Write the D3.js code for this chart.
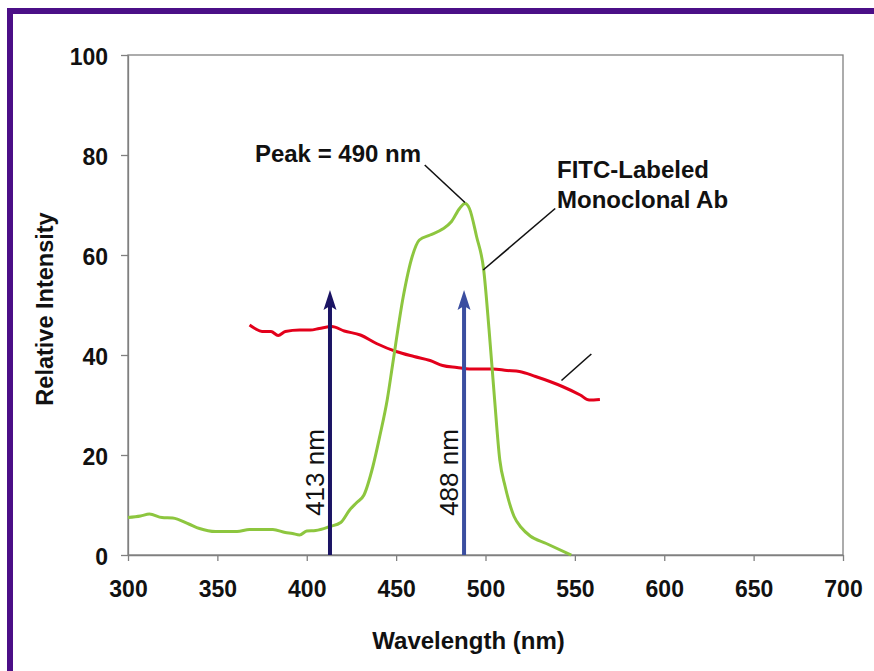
<!DOCTYPE html>
<html lang="en">
<head>
    <meta charset="UTF-8">
    <title>FITC-Labeled Monoclonal Ab spectrum</title>
    <script src="https://d3js.org/d3.v7.min.js"></script>
    <style>
        body { margin: 0; background: #fff; }
        svg { display: block; font-family: "Liberation Sans", Arial, sans-serif; }
        .axis path, .axis line { stroke: #808080; stroke-width: 1.3; }
        .axis text { font-size: 23px; font-weight: bold; fill: #111; }
        .line { fill: none; stroke-width: 3; stroke-linejoin: round; }
        .line.fitc { stroke: #8dc63f; }
        .line.ref { stroke: #e3001b; }
        .leader { stroke: #111; stroke-width: 1.6; }
        .note { font-size: 24px; font-weight: bold; fill: #111; }
    </style>
</head>
<body>
<svg id="chart" width="874" height="671"></svg>

<script>
    // FITC-labeled antibody curve (green)
    const fitcNm  = [300, 307, 312, 319, 325, 334, 340, 349, 361, 368, 381, 388, 392, 396, 400, 405, 413, 419, 424, 428, 432, 437, 441, 445, 448, 454, 459, 463, 469, 476, 481, 485.5, 488.5, 491, 495, 499, 502, 505, 508, 511, 516, 520, 525, 534, 548];
    const fitcVal = [7.5, 7.8, 8.2, 7.5, 7.4, 6.2, 5.3, 4.7, 4.7, 5.1, 5.1, 4.5, 4.3, 4.0, 4.8, 4.9, 5.7, 6.5, 9, 10.5, 12, 17.7, 24, 31, 38, 51.7, 59.7, 63, 64, 65.2, 66.7, 69.3, 70.3, 69.3, 63.7, 57, 45, 31.5, 19, 13.7, 7.7, 5.5, 3.8, 2.3, 0];

    // second curve (red)
    const refNm  = [368, 371, 375, 380, 384, 388, 396, 402, 407, 414, 421, 430, 439, 450, 460, 469, 476, 484, 491, 504, 512, 519, 528, 536, 543, 553, 558, 564];
    const refVal = [46, 45.3, 44.7, 44.7, 43.9, 44.7, 45, 45, 45.3, 45.7, 44.8, 44, 42.3, 40.7, 39.7, 38.9, 37.9, 37.5, 37.2, 37.2, 36.9, 36.7, 35.7, 34.7, 33.7, 32, 31, 31.1];

    // excitation arrows
    const arrowNm = [413, 488];
    const arrowTop = 53;
    const arrowLabels = ["413 nm", "488 nm"];
    const arrowColors = ["#1b1464", "#3b4ea0"];

    const xTicks = [300, 350, 400, 450, 500, 550, 600, 650, 700];
    const yTicks = [0, 20, 40, 60, 80, 100];

    const W = 874, H = 671;
    const plotL = 128, plotR = 843, plotT = 55, plotB = 555;

    const svg = d3.select("#chart");

    const x = d3.scaleLinear().domain([300, 700]).range([plotL, plotR]);
    const y = d3.scaleLinear().domain([0, 100]).range([plotB, plotT]);

    // purple frame
    svg.append("rect").attr("x", 7).attr("y", 8).attr("width", W - 7).attr("height", 6).attr("fill", "#4b0f87");
    svg.append("rect").attr("x", 7).attr("y", 8).attr("width", 6).attr("height", H - 8).attr("fill", "#4b0f87");

    // plot area border
    svg.append("rect")
        .attr("x", plotL).attr("y", plotT)
        .attr("width", plotR - plotL).attr("height", plotB - plotT)
        .attr("fill", "none").attr("stroke", "#808080").attr("stroke-width", 1.3);

    // axes
    svg.append("g")
        .attr("class", "axis")
        .attr("transform", `translate(0,${plotB})`)
        .call(d3.axisBottom(x).tickValues(xTicks).tickSize(6).tickSizeOuter(0).tickPadding(20));

    svg.append("g")
        .attr("class", "axis")
        .attr("transform", `translate(${plotL},0)`)
        .call(d3.axisLeft(y).tickValues(yTicks).tickSize(7).tickSizeOuter(0).tickPadding(13))
        .selectAll("text").attr("dy", "0.4em");

    // axis titles
    svg.append("text")
        .attr("x", (plotL + plotR) / 2 - 17).attr("y", 649)
        .attr("text-anchor", "middle")
        .attr("class", "note")
        .text("Wavelength (nm)");

    svg.append("text")
        .attr("transform", `translate(53,${(plotT + plotB) / 2 + 4}) rotate(-90)`)
        .attr("text-anchor", "middle")
        .attr("class", "note").style("font-size", "23.5px")
        .text("Relative Intensity");

    // curves
    const line = d3.line()
        .x(d => x(d[0]))
        .y(d => y(d[1]))
        .curve(d3.curveMonotoneX);

    svg.append("path")
        .datum(refNm.map((n, i) => [n, refVal[i]]))
        .attr("class", "line ref")
        .attr("d", line);

    svg.append("path")
        .datum(fitcNm.map((n, i) => [n, fitcVal[i]]))
        .attr("class", "line fitc")
        .attr("d", line);

    // arrows
    arrowNm.forEach((nm, i) => {
        const ax = x(nm), yTip = y(arrowTop);
        svg.append("line")
            .attr("x1", ax).attr("x2", ax)
            .attr("y1", y(0)).attr("y2", yTip + 12)
            .attr("stroke", arrowColors[i]).attr("stroke-width", 4);
        svg.append("path")
            .attr("d", `M${ax},${yTip} L${ax + 6.5},${yTip + 20} L${ax},${yTip + 16} L${ax - 6.5},${yTip + 20} Z`)
            .attr("fill", arrowColors[i]);
        svg.append("text")
            .attr("transform", `translate(${ax - 6},${y(16.5)}) rotate(-90)`)
            .attr("text-anchor", "middle")
            .style("font-size", "26px").attr("fill", "#111")
            .text(arrowLabels[i]);
    });

    // annotations
    const leaders = [
        [[466, 78], [488.5, 70.5]],
        [[539, 69.3], [498.7, 57]],
        [[559.2, 40.2], [542.5, 34.9]]
    ];
    leaders.forEach(l => {
        svg.append("line")
            .attr("class", "leader")
            .attr("x1", x(l[0][0])).attr("y1", y(l[0][1]))
            .attr("x2", x(l[1][0])).attr("y2", y(l[1][1]));
    });

    svg.append("text").attr("class", "note")
        .attr("x", x(371)).attr("y", y(78.6))
        .text("Peak = 490 nm");

    svg.append("text").attr("class", "note")
        .attr("x", x(540)).attr("y", y(75.4))
        .text("FITC-Labeled");

    svg.append("text").attr("class", "note")
        .attr("x", x(540)).attr("y", y(69.4))
        .text("Monoclonal Ab");
</script>
</body>
</html>
